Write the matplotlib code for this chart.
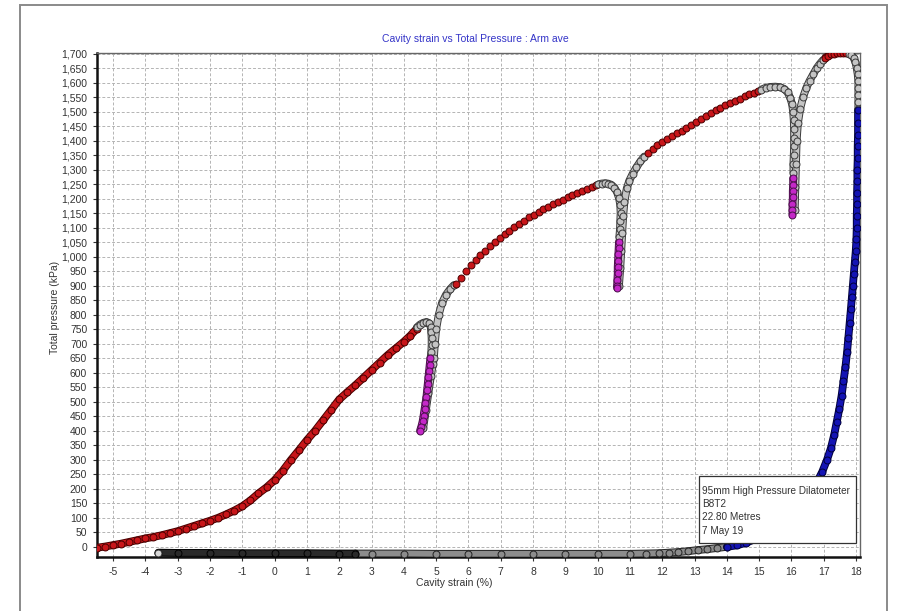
import numpy as np
import matplotlib
matplotlib.use("Agg")
import matplotlib.pyplot as plt
import matplotlib.patheffects as pe
import matplotlib.ticker as mticker
from matplotlib.patches import Rectangle

plt.rcParams['font.family'] = ['Liberation Sans', 'DejaVu Sans']
plt.rcParams['axes.unicode_minus'] = False

# ---- data (cavity strain %, total pressure kPa) ----
load1 = np.array([[-5.5, -3], [-5.25, 1], [-5.0, 6], [-4.75, 11], [-4.5, 17], [-4.25, 23],
                  [-4.0, 29], [-3.75, 34], [-3.5, 40], [-3.25, 47], [-3.0, 54], [-2.75, 63],
                  [-2.5, 72], [-2.25, 81], [-2.0, 90], [-1.75, 100], [-1.5, 112], [-1.25, 125],
                  [-1.0, 140], [-0.75, 160], [-0.5, 184], [-0.25, 205], [0.0, 230], [0.25, 262],
                  [0.5, 299], [0.75, 333], [1.0, 368], [1.25, 400], [1.5, 436], [1.75, 472],
                  [2.0, 508], [2.25, 533], [2.5, 557], [2.75, 583], [3.0, 609], [3.25, 635],
                  [3.5, 661], [3.75, 684], [4.0, 707], [4.2, 728], [4.4, 752]])
hold1 = np.array([[4.4, 756], [4.5, 766], [4.6, 772], [4.7, 775], [4.78, 771], [4.83, 758],
                  [4.85, 740], [4.86, 718], [4.86, 695], [4.85, 672], [4.83, 652]])
unload1 = np.array([[4.82, 650], [4.8, 628], [4.78, 606], [4.76, 584], [4.74, 562], [4.72, 540],
                    [4.7, 518], [4.67, 496], [4.64, 474], [4.61, 452], [4.58, 432], [4.54, 414],
                    [4.5, 400]])
reload1 = np.array([[4.6, 410], [4.68, 470], [4.76, 530], [4.84, 590], [4.9, 630], [4.93, 650],
                    [4.96, 700], [5.0, 750], [5.08, 800], [5.18, 840], [5.3, 868], [5.43, 888],
                    [5.55, 902]])
load2 = np.array([[5.62, 905], [5.77, 928], [5.92, 950], [6.07, 970], [6.22, 988], [6.37, 1005],
                  [6.52, 1020], [6.67, 1036], [6.82, 1050], [6.97, 1064], [7.12, 1077],
                  [7.27, 1090], [7.42, 1102], [7.57, 1113], [7.72, 1124], [7.87, 1135],
                  [8.02, 1145], [8.17, 1155], [8.32, 1164], [8.47, 1172], [8.62, 1180],
                  [8.77, 1188], [8.92, 1196], [9.07, 1204], [9.22, 1211], [9.37, 1218],
                  [9.52, 1226], [9.67, 1233], [9.82, 1240], [9.95, 1246]])
hold2 = np.array([[10.02, 1249], [10.12, 1252], [10.22, 1253], [10.32, 1252], [10.42, 1248],
                  [10.52, 1238], [10.6, 1222], [10.66, 1202], [10.7, 1178], [10.71, 1150],
                  [10.7, 1122], [10.69, 1094], [10.67, 1068]])
unload2 = np.array([[10.66, 1052], [10.65, 1030], [10.64, 1008], [10.63, 986], [10.62, 964],
                    [10.62, 942], [10.61, 920], [10.6, 900], [10.6, 893]])
reload2 = np.array([[10.66, 900], [10.7, 960], [10.73, 1020], [10.76, 1080], [10.79, 1140],
                    [10.83, 1190], [10.9, 1235], [10.98, 1262], [11.08, 1285], [11.2, 1308],
                    [11.32, 1328], [11.44, 1345]])
load3 = np.array([[11.55, 1358], [11.7, 1372], [11.85, 1384], [12.0, 1396], [12.15, 1407],
                  [12.3, 1416], [12.45, 1425], [12.6, 1434], [12.75, 1444], [12.9, 1455],
                  [13.05, 1465], [13.2, 1475], [13.35, 1485], [13.5, 1495], [13.65, 1504],
                  [13.8, 1513], [13.95, 1521], [14.1, 1529], [14.25, 1537], [14.4, 1545],
                  [14.55, 1552], [14.7, 1559], [14.85, 1565], [14.97, 1570]])
hold3 = np.array([[15.07, 1576], [15.2, 1582], [15.35, 1585], [15.5, 1586], [15.65, 1584],
                  [15.78, 1578], [15.88, 1566], [15.96, 1548], [16.02, 1525], [16.05, 1500],
                  [16.07, 1470], [16.08, 1440], [16.08, 1410], [16.08, 1380], [16.07, 1350],
                  [16.06, 1320], [16.06, 1290]])
unload3 = np.array([[16.05, 1270], [16.05, 1248], [16.04, 1226], [16.04, 1204], [16.03, 1182],
                    [16.03, 1162], [16.03, 1145]])
reload3 = np.array([[16.1, 1160], [16.12, 1240], [16.14, 1320], [16.16, 1400], [16.2, 1460],
                    [16.27, 1510], [16.36, 1550], [16.46, 1582], [16.56, 1606], [16.67, 1628],
                    [16.78, 1650], [16.88, 1665], [16.98, 1678]])
load4 = np.array([[17.05, 1686], [17.14, 1692], [17.23, 1697], [17.32, 1700], [17.41, 1702],
                  [17.5, 1703], [17.59, 1703], [17.68, 1702]])
hold4 = np.array([[17.77, 1700], [17.85, 1696], [17.92, 1686], [17.98, 1670], [18.02, 1650],
                  [18.05, 1628], [18.07, 1604], [18.07, 1580], [18.07, 1556], [18.07, 1532],
                  [18.07, 1510]])
final_unload = np.array([[18.06, 1505], [18.06, 1460], [18.06, 1420], [18.05, 1380],
                         [18.05, 1340], [18.04, 1300], [18.04, 1260], [18.03, 1220],
                         [18.03, 1180], [18.02, 1140], [18.02, 1100], [18.01, 1060],
                         [17.99, 1020], [17.96, 980], [17.93, 940], [17.9, 900], [17.87, 860],
                         [17.84, 820], [17.8, 770], [17.76, 720], [17.72, 670], [17.67, 620],
                         [17.61, 570], [17.55, 520], [17.48, 475], [17.4, 430], [17.32, 385],
                         [17.22, 340], [17.1, 300], [16.95, 258], [16.8, 225], [16.6, 190],
                         [16.35, 152], [16.1, 120], [15.8, 92], [15.5, 68], [15.2, 46],
                         [14.9, 28], [14.6, 14], [14.3, 5], [14.0, 0]])
tail_light = np.array([[14.0, 0], [13.7, -4], [13.4, -8], [13.1, -11], [12.8, -15], [12.5, -18],
                       [12.2, -20], [11.9, -22], [11.5, -23], [11.0, -24], [10.0, -24],
                       [9.0, -24], [8.0, -24], [7.0, -24], [6.0, -24], [5.0, -24], [4.0, -23],
                       [3.0, -23], [2.5, -23]])
tail_dark = np.array([[2.5, -23], [2.0, -23], [1.0, -22], [0.0, -22], [-1.0, -22],
                      [-2.0, -21], [-3.0, -21], [-3.6, -20]])

x_ticks = np.arange(-5, 19, 1)
y_ticks = np.arange(0, 1701, 50)
info_lines = ["95mm High Pressure Dilatometer", "B8T2", "22.80 Metres", "7 May 19"]

RED = ('#c8161a', '#4a0000')
GREY = ('#c4c4c4', '#3a3a3a')
TAIL = ('#8c8c8c', '#222222')
MAG = ('#c428c8', '#4a104a')
BLUE = ('#1414b4', '#00003c')
DARK = ('#2a2a2a', '#000000')

fig = plt.figure(figsize=(9.02, 6.11), dpi=100)
ax = fig.add_axes([0.1075, 0.0884, 0.8459, 0.8249])


def trace(pts, cols, band=True, ms=5.0):
    fc, ec = cols
    if band:
        ax.plot(pts[:, 0], pts[:, 1], '-', color=fc, lw=4.2, solid_capstyle='round',
                path_effects=[pe.Stroke(linewidth=5.6, foreground=ec), pe.Normal()], zorder=3)
    ax.plot(pts[:, 0], pts[:, 1], 'o', ms=ms, mfc=fc, mec=ec, mew=0.7, zorder=4)


trace(tail_light, TAIL)
trace(tail_dark, DARK)
ax.plot(*tail_dark[-1], 'o', ms=5, mfc='#d8d8d8', mec='#333333', mew=0.7, zorder=5)
trace(load1, RED)
trace(hold1, GREY)
trace(reload1, GREY)
trace(unload1, MAG)
trace(load2, RED, band=False)
trace(hold2, GREY)
trace(reload2, GREY)
trace(unload2, MAG)
trace(load3, RED, band=False)
trace(hold3, GREY)
trace(reload3, GREY)
trace(unload3, MAG)
trace(load4, RED)
trace(hold4, GREY)
trace(final_unload, BLUE)

ax.set_xlim(-5.5, 18.12)
ax.set_ylim(-35, 1702)
ax.set_xticks(x_ticks)
ax.set_yticks(y_ticks)
ax.yaxis.set_major_formatter(mticker.StrMethodFormatter('{x:,.0f}'))
ax.tick_params(labelsize=7.5, colors='#333333', length=3, width=0.8, pad=4)
ax.grid(True, ls=(0, (3, 2)), color='#b4b4b4', lw=0.7)
ax.set_axisbelow(True)
for s in ['left', 'bottom']:
    ax.spines[s].set_linewidth(1.8)
    ax.spines[s].set_color('#111111')
for s in ['top', 'right']:
    ax.spines[s].set_linewidth(1.0)
    ax.spines[s].set_color('#666666')

fig.text(475 / 902, 1 - 39 / 611, "Cavity strain vs Total Pressure : Arm ave", ha='center',
         va='center', fontsize=7.5, color='#3434c8')
fig.text(55 / 902, 1 - 307 / 611, "Total pressure (kPa)", rotation=90, ha='center',
         va='center', fontsize=7.5, color='#333333')
fig.text(454 / 902, 1 - 583 / 611, "Cavity strain (%)", ha='center', va='center',
         fontsize=7.5, color='#333333')

# info box
fig.add_artist(Rectangle((699 / 902, 1 - 542.7 / 611), 157 / 902, 66.5 / 611,
                         transform=fig.transFigure, fc='white', ec='#333333', lw=0.9, zorder=10))
for i, line in enumerate(info_lines):
    fig.text(702 / 902, 1 - (490.5 + 13.4 * i) / 611, line, ha='left', va='center',
             fontsize=7.2, color='#333333', zorder=11)

# outer frame
fig.add_artist(Rectangle((20 / 902, -0.05), 867 / 902, 1.05 - 5 / 611, transform=fig.transFigure,
                         fill=False, ec='#8a8a8a', lw=1.4))

fig.savefig("out.png", dpi=100)
